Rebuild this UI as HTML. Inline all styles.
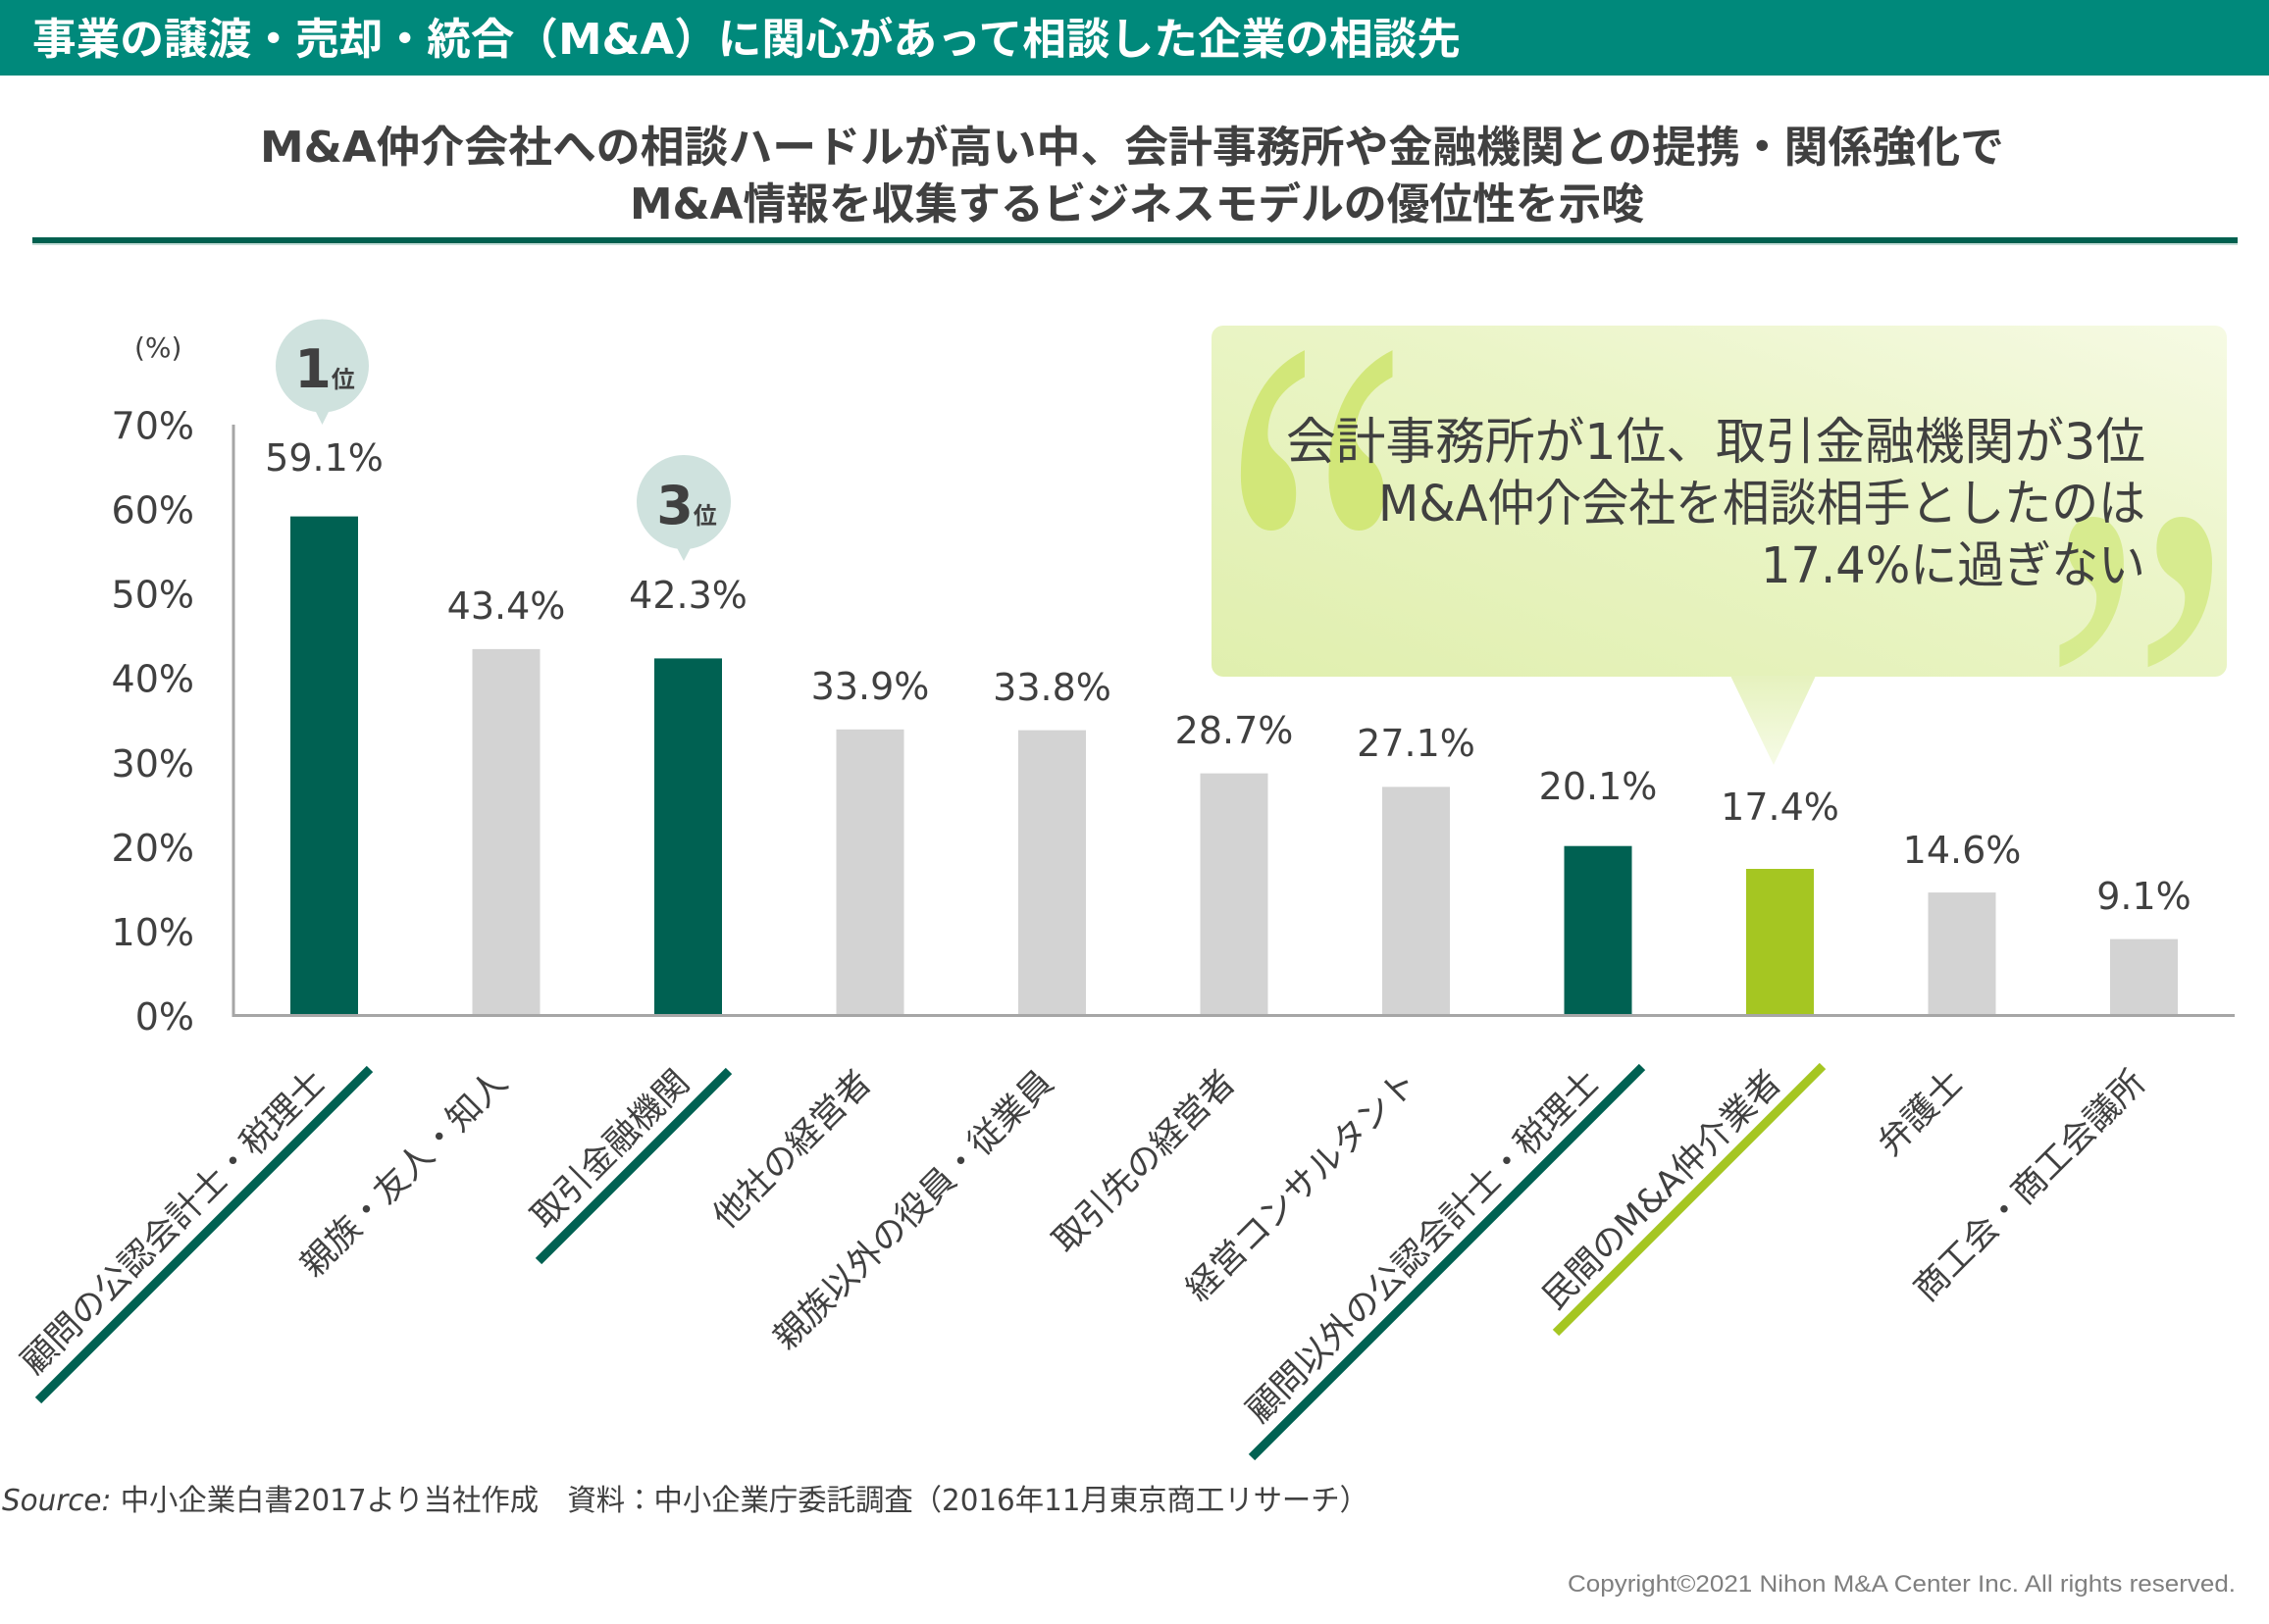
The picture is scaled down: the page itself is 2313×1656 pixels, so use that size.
<!DOCTYPE html>
<html><head><meta charset="utf-8">
<style>html,body{margin:0;padding:0;background:#fff;}svg{display:block}</style>
</head><body>
<svg width="2313" height="1656" viewBox="0 0 2313 1656" xmlns="http://www.w3.org/2000/svg">
<defs>
<linearGradient id="bx" x1="0" y1="1" x2="1" y2="0">
<stop offset="0" stop-color="#E0EFAE"/><stop offset="0.6" stop-color="#EBF5C8"/><stop offset="1" stop-color="#F6FAE4"/>
</linearGradient>
<linearGradient id="tri" x1="0" y1="0" x2="0" y2="1">
<stop offset="0" stop-color="#E6F2BE"/><stop offset="1" stop-color="#F6FBE6"/>
</linearGradient>
</defs>
<rect x="0" y="0" width="2313" height="77" fill="#00897B"/>
<text x="33" y="55" font-family="DejaVu Sans, Noto Sans CJK JP, sans-serif" font-weight="bold" font-size="44" fill="#fff" textLength="1456" lengthAdjust="spacingAndGlyphs">事業の譲渡・売却・統合（M&amp;A）に関心があって相談した企業の相談先</text>

<g font-family="DejaVu Sans, Noto Sans CJK JP, sans-serif" font-weight="bold" font-size="44" fill="#404040">
<text x="265" y="165" textLength="1778" lengthAdjust="spacingAndGlyphs">M&amp;A仲介会社への相談ハードルが高い中、会計事務所や金融機関との提携・関係強化で</text>
<text x="642" y="223" textLength="1034" lengthAdjust="spacingAndGlyphs">M&amp;A情報を収集するビジネスモデルの優位性を示唆</text>
</g>
<rect x="33" y="242" width="2248" height="6" fill="#00604F"/>
<rect x="33" y="248" width="2248" height="2" fill="#C5DED8"/>

<!-- callout -->
<rect x="1235" y="332" width="1035" height="358" rx="12" fill="url(#bx)"/>
<polygon points="1764,689 1851,689 1808,780" fill="url(#tri)"/>
<text transform="translate(1244,834) scale(0.61,1)" font-family="Liberation Serif, serif" font-size="716" fill="#D0E672" opacity="0.9">“</text>
<text transform="translate(2081,924) scale(0.736,1)" font-family="Liberation Serif, serif" font-size="597" fill="#D4EA85" opacity="0.85">”</text>
<g font-family="DejaVu Sans, Noto Sans CJK JP, sans-serif" font-size="51" fill="#404040">
<text x="1311" y="468" textLength="876" lengthAdjust="spacingAndGlyphs">会計事務所が1位、取引金融機関が3位</text>
<text x="1405" y="531" textLength="782" lengthAdjust="spacingAndGlyphs">M&amp;A仲介会社を相談相手としたのは</text>
<text x="1795" y="594" textLength="392" lengthAdjust="spacingAndGlyphs">17.4%に過ぎない</text>
</g>

<!-- axes labels -->
<g font-family="DejaVu Sans, sans-serif" font-size="38" fill="#404040" text-anchor="end">
<text x="198" y="447.5">70%</text>
<text x="198" y="533.6">60%</text>
<text x="198" y="619.7">50%</text>
<text x="198" y="705.7">40%</text>
<text x="198" y="791.8">30%</text>
<text x="198" y="877.9">20%</text>
<text x="198" y="963.9">10%</text>
<text x="198" y="1050">0%</text>
</g>
<text x="137" y="364" font-family="DejaVu Sans, sans-serif" font-size="28" fill="#404040">(%)</text>

<!-- bars -->
<g>
<rect x="296" y="526.6" width="69" height="509.4" fill="#006152"/>
<rect x="481.5" y="661.9" width="69" height="374.1" fill="#D3D3D3"/>
<rect x="667" y="671.4" width="69" height="364.6" fill="#006152"/>
<rect x="852.5" y="743.8" width="69" height="292.2" fill="#D3D3D3"/>
<rect x="1038" y="744.6" width="69" height="291.4" fill="#D3D3D3"/>
<rect x="1223.5" y="788.6" width="69" height="247.4" fill="#D3D3D3"/>
<rect x="1409" y="802.4" width="69" height="233.6" fill="#D3D3D3"/>
<rect x="1594.5" y="862.7" width="69" height="173.3" fill="#006152"/>
<rect x="1780" y="886" width="69" height="150" fill="#A5C622"/>
<rect x="1965.5" y="910.1" width="69" height="125.9" fill="#D3D3D3"/>
<rect x="2151" y="957.6" width="69" height="78.4" fill="#D3D3D3"/>
</g>
<line x1="238" y1="433" x2="238" y2="1037" stroke="#A6A6A6" stroke-width="3"/>
<line x1="237" y1="1035.5" x2="2278" y2="1035.5" stroke="#A6A6A6" stroke-width="3"/>

<!-- value labels -->
<g font-family="DejaVu Sans, sans-serif" font-size="38" fill="#404040" text-anchor="middle">
<text x="330.5" y="480">59.1%</text>
<text x="516" y="631">43.4%</text>
<text x="701.5" y="620">42.3%</text>
<text x="887" y="713">33.9%</text>
<text x="1072.5" y="714">33.8%</text>
<text x="1258" y="758">28.7%</text>
<text x="1443.5" y="771">27.1%</text>
<text x="1629" y="815">20.1%</text>
<text x="1814.5" y="836">17.4%</text>
<text x="2000" y="880">14.6%</text>
<text x="2185.5" y="927">9.1%</text>
</g>

<!-- badges -->
<circle cx="328.5" cy="373" r="47.5" fill="#CFE2DE"/>
<polygon points="318,412 339,412 328.5,433" fill="#CFE2DE"/>
<text x="331" y="395" text-anchor="middle" font-family="DejaVu Sans, Noto Sans CJK JP, sans-serif" font-weight="bold" fill="#404040"><tspan font-size="54">1</tspan><tspan font-size="24">位</tspan></text>
<circle cx="697" cy="512" r="48" fill="#CFE2DE"/>
<polygon points="686,551 708,551 697,572" fill="#CFE2DE"/>
<text x="700" y="534" text-anchor="middle" font-family="DejaVu Sans, Noto Sans CJK JP, sans-serif" font-weight="bold" fill="#404040"><tspan font-size="54">3</tspan><tspan font-size="24">位</tspan></text>

<!-- category labels -->
<g font-family="DejaVu Sans, Noto Sans CJK JP, sans-serif" font-size="35" fill="#404040" text-anchor="end">
<text transform="translate(333.5,1106) rotate(-45)">顧問の公認会計士・税理士</text>
<text transform="translate(519,1106) rotate(-45)">親族・友人・知人</text>
<text transform="translate(704.5,1106) rotate(-45)">取引金融機関</text>
<text transform="translate(890,1106) rotate(-45)">他社の経営者</text>
<text transform="translate(1075.5,1106) rotate(-45)">親族以外の役員・従業員</text>
<text transform="translate(1261,1106) rotate(-45)">取引先の経営者</text>
<text transform="translate(1446.5,1106) rotate(-45)">経営コンサルタント</text>
<text transform="translate(1632,1106) rotate(-45)">顧問以外の公認会計士・税理士</text>
<text transform="translate(1817.5,1106) rotate(-45)">民間のM&amp;A仲介業者</text>
<text transform="translate(2003,1106) rotate(-45)">弁護士</text>
<text transform="translate(2188.5,1106) rotate(-45)">商工会・商工会議所</text>
</g>
<g stroke-width="9" fill="none">
<line x1="377" y1="1090" x2="39" y2="1428" stroke="#006152"/>
<line x1="743" y1="1092" x2="549" y2="1286" stroke="#006152"/>
<line x1="1674" y1="1088" x2="1276" y2="1486" stroke="#006152"/>
<line x1="1858" y1="1087" x2="1586" y2="1359" stroke="#A5C622"/>
</g>

<!-- footer -->
<text x="2" y="1540" font-family="DejaVu Sans, Noto Sans CJK JP, sans-serif" font-size="30" fill="#404040" textLength="1393" lengthAdjust="spacingAndGlyphs"><tspan font-style="italic">Source:</tspan> 中小企業白書2017より当社作成　資料：中小企業庁委託調査（2016年11月東京商工リサーチ）</text>
<text x="1598" y="1623" font-family="Liberation Sans, sans-serif" font-size="24" fill="#7F7F7F" textLength="681" lengthAdjust="spacingAndGlyphs">Copyright©2021 Nihon M&amp;A Center Inc. All rights reserved.</text>
</svg>
</body></html>
